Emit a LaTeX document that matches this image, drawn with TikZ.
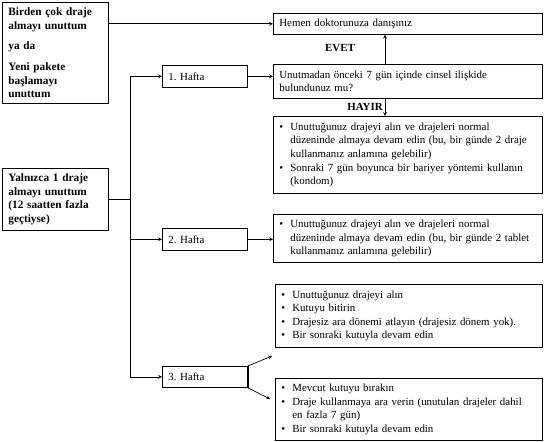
\documentclass[tikz,border=0pt]{standalone}
\usepackage{fontspec}
\setmainfont{Liberation Serif}
\frenchspacing

\newcommand{\madde}{\textbullet}

\begin{document}
\begin{tikzpicture}[x=1pt, y=-1pt, font=\fontsize{10.9}{13.6}\selectfont,
  kutu/.style={draw, line width=0.7pt, anchor=north west, inner xsep=6pt, inner ysep=2pt, align=left},
  sol/.style={kutu, text width=94pt, minimum height=101pt, font=\fontsize{11.3}{13.7}\selectfont\bfseries},
  hafta/.style={kutu, text width=73pt, minimum height=22pt},
  genis/.style={kutu, text width=257pt},
  etiket/.style={font=\fontsize{10.9}{13.6}\selectfont\bfseries, inner sep=2pt},
  ok/.style={-stealth, line width=0.7pt}]
  \useasboundingbox (0,0) rectangle (545,441);

  % sol taraf
  \node[sol] (birden) at (2,2) {Birden çok draje\\ almayı unuttum\\[7pt] ya da\\[7pt] Yeni pakete\\ başlamayı\\ unuttum};
  \node[sol, minimum height=62pt] (yalniz) at (2,168) {Yalnızca 1 draje\\ almayı unuttum\\ (12 saatten fazla\\ geçtiyse)};

  % haftalar
  \node[hafta] (hafta1) at (162,65) {1. Hafta};
  \node[hafta] (hafta2) at (162,228) {2. Hafta};
  \node[hafta, minimum height=21pt] (hafta3) at (162,366) {3. Hafta};

  % sag taraf
  \node[genis, minimum height=21pt] (hemen) at (273,13) {Hemen doktorunuza danışınız};
  \node[genis, minimum height=34pt] (soru) at (273,64) {Unutmadan önceki 7 gün içinde cinsel ilişkide\\ bulundunuz mu?};
  \node[genis, minimum height=77pt] (yedigun) at (273,116) {%
    \begin{tabular}{@{}p{11pt}@{}l@{}}
      \madde & Unuttuğunuz drajeyi alın ve drajeleri normal\\
             & düzeninde almaya devam edin (bu, bir günde 2 draje\\
             & kullanmanız anlamına gelebilir)\\
      \madde & Sonraki 7 gün boyunca bir bariyer yöntemi kullanın\\
             & (kondom)
    \end{tabular}};
  \node[genis, minimum height=48pt] (ikihafta) at (273,214) {%
    \begin{tabular}{@{}p{11pt}@{}l@{}}
      \madde & Unuttuğunuz drajeyi alın ve drajeleri normal\\
             & düzeninde almaya devam edin (bu, bir günde 2 tablet\\
             & kullanmanız anlamına gelebilir)
    \end{tabular}};
  \node[genis, text width=255pt, minimum height=63pt] (devam) at (275,284) {%
    \begin{tabular}{@{}p{11pt}@{}l@{}}
      \madde & Unuttuğunuz drajeyi alın\\
      \madde & Kutuyu bitirin\\
      \madde & Drajesiz ara dönemi atlayın (drajesiz dönem yok).\\
      \madde & Bir sonraki kutuyla devam edin
    \end{tabular}};
  \node[genis, text width=255pt, minimum height=62pt] (ara) at (275,378) {%
    \begin{tabular}{@{}p{11pt}@{}l@{}}
      \madde & Mevcut kutuyu bırakın\\
      \madde & Draje kullanmaya ara verin (unutulan drajeler dahil\\
             & en fazla 7 gün)\\
      \madde & Bir sonraki kutuyla devam edin
    \end{tabular}};

  % baglantilar
  \coordinate (kol) at (130,0);
  \coordinate (dikey) at (385,0);
  \coordinate (ust) at (272,356);
  \coordinate (alt) at (270,399);
  \draw[ok] (birden.east |- hemen.west) -- (hemen.west);
  \draw[line width=0.7pt] (yalniz.east) -- (yalniz.east -| kol);
  \draw[ok] (hafta3.west -| kol) |- (hafta1.west);
  \draw[ok] (hafta2.west -| kol) -- (hafta2.west);
  \draw[ok] (hafta3.west -| kol) -- (hafta3.west);
  \draw[ok] (hafta1.east) -- (soru.west |- hafta1.east);
  \draw[ok] (soru.north -| dikey) -- (hemen.south -| dikey);
  \node[etiket] (evet) at (340,48) {EVET};
  \draw[ok] (soru.south -| dikey) -- node[etiket, left] (hayir) {HAYIR} (yedigun.north -| dikey);
  \draw[ok] (hafta2.east) -- (ikihafta.west |- hafta2.east);
  \draw[line width=1.6pt] (hafta3.north east) -- (hafta3.south east);
  \draw[ok] (hafta3.north east) -- (ust);
  \draw[ok] (hafta3.south east) -- (alt);
\end{tikzpicture}
\end{document}
